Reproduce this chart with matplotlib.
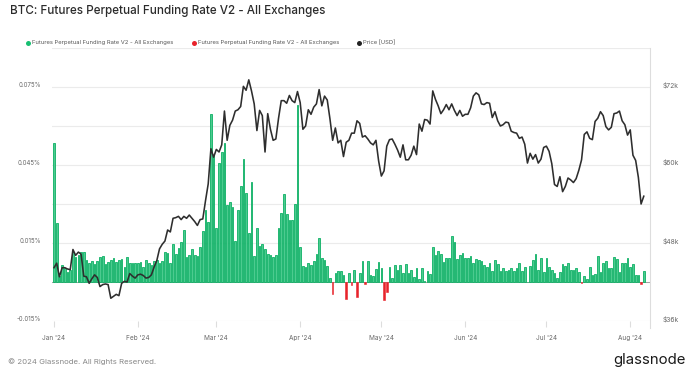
import numpy as np
import pandas as pd
import matplotlib
matplotlib.use("Agg")
import matplotlib.pyplot as plt
import matplotlib.dates as mdates
from matplotlib.lines import Line2D

# ---------------- data (daily, 2024-01-01 .. 2024-08-06) ----------------
funding_jan = [0.0533, 0.0226, 0.0025, 0.0065, 0.0053, 0.0040, 0.0046, 0.0117, 0.0097, 0.0104,
               0.0114, 0.0114, 0.0085, 0.0072, 0.0081, 0.0069, 0.0081, 0.0097, 0.0100, 0.0069,
               0.0078, 0.0085, 0.0091, 0.0076, 0.0083, 0.0088, 0.0059, 0.0097, 0.0074, 0.0072, 0.0072]
funding_feb = [0.0072, 0.0076, 0.0059, 0.0085, 0.0074, 0.0065, 0.0081, 0.0085, 0.0072, 0.0081,
               0.0117, 0.0110, 0.0072, 0.0145, 0.0108, 0.0129, 0.0155, 0.0200, 0.0097, 0.0104,
               0.0126, 0.0104, 0.0101, 0.0133, 0.0196, 0.0277, 0.0230, 0.0645, 0.0488]
funding_mar = [0.0206, 0.0456, 0.0501, 0.0536, 0.0296, 0.0306, 0.0290, 0.0158, 0.0277, 0.0370,
               0.0472, 0.0344, 0.0190, 0.0383, 0.0101, 0.0206, 0.0138, 0.0145, 0.0127, 0.0106,
               0.0104, 0.0097, 0.0104, 0.0209, 0.0264, 0.0337, 0.0260, 0.0238, 0.0238, 0.0299, 0.0680]
funding_apr = [0.0133, 0.0063, 0.0059, 0.0072, 0.0065, 0.0082, 0.0108, 0.0168, 0.0091, 0.0085,
               0.0062, 0.0014, -0.0046, 0.0036, 0.0041, 0.0041, 0.0026, -0.0067, 0.0036, -0.0012,
               0.0045, -0.0059, 0.0033, 0.0082, -0.0006, 0.0082, 0.0028, 0.0023, 0.0049, 0.0078]
funding_may = [0.0053, -0.0069, -0.0040, 0.0056, 0.0017, 0.0065, 0.0046, 0.0065, 0.0033, 0.0069,
               0.0036, 0.0046, 0.0018, 0.0053, 0.0010, 0.0055, 0.0003, 0.0042, 0.0031, 0.0133,
               0.0104, 0.0119, 0.0106, 0.0077, 0.0091, 0.0091, 0.0177, 0.0153, 0.0088, 0.0104, 0.0110]
funding_jun = [0.0092, 0.0092, 0.0101, 0.0074, 0.0090, 0.0085, 0.0079, 0.0065, 0.0058, 0.0073,
               0.0042, 0.0085, 0.0068, 0.0042, 0.0054, 0.0042, 0.0046, 0.0054, 0.0042, 0.0055,
               0.0074, 0.0041, 0.0059, 0.0000, 0.0062, 0.0085, 0.0106, 0.0046, 0.0094, 0.0037]
funding_jul = [0.0091, 0.0059, 0.0046, 0.0033, 0.0014, 0.0037, 0.0068, 0.0063, 0.0072, 0.0046,
               0.0046, 0.0055, 0.0037, -0.0005, 0.0023, 0.0013, 0.0056, 0.0027, 0.0031, 0.0100,
               0.0037, 0.0074, 0.0082, 0.0055, 0.0055, 0.0095, 0.0090, 0.0040, 0.0072, 0.0072, 0.0092]
funding_aug = [0.0056, 0.0068, 0.0027, 0.0026, -0.0009, 0.0044]

price_jan = [44.2, 44.9, 42.8, 44.2, 44.2, 44.0, 43.9, 47.0, 46.1, 46.6, 46.3, 42.9, 42.8, 41.8, 42.5,
             43.1, 42.7, 41.3, 41.6, 41.7, 41.6, 39.5, 39.8, 40.1, 39.9, 41.8, 42.1, 42.0, 43.3, 42.9, 42.6]
price_feb = [43.1, 43.2, 43.0, 42.6, 42.7, 43.1, 44.3, 45.3, 47.1, 47.8, 48.3, 50.0, 49.7, 51.8, 51.9,
             52.1, 51.6, 52.1, 51.8, 52.3, 51.8, 51.3, 50.7, 51.6, 51.7, 54.5, 57.1, 62.5, 61.2]
price_mar = [62.4, 62.0, 63.1, 68.3, 63.8, 66.1, 66.9, 68.3, 68.5, 69.0, 72.1, 71.5, 73.1, 71.4, 69.4,
             65.3, 68.4, 67.6, 62.0, 67.9, 65.5, 63.8, 64.0, 67.2, 69.9, 69.9, 69.5, 70.7, 69.9, 69.6, 71.3]
price_apr = [69.6, 65.5, 66.0, 68.5, 67.8, 68.9, 69.4, 71.6, 69.1, 70.6, 70.0, 67.1, 63.8, 65.7, 63.4,
             63.8, 61.3, 63.5, 63.8, 64.9, 64.9, 66.8, 66.4, 64.3, 64.5, 64.0, 63.4, 63.1, 63.8, 60.6]
price_may = [58.3, 59.1, 62.9, 63.9, 64.0, 63.2, 62.3, 61.2, 63.1, 60.8, 60.8, 61.5, 62.9, 61.6, 66.3,
             65.2, 67.0, 66.9, 66.3, 71.4, 70.1, 69.1, 67.9, 68.5, 69.3, 68.5, 69.4, 68.4, 67.6, 68.4, 67.5]
price_jun = [67.8, 67.8, 68.8, 70.6, 71.1, 70.8, 69.4, 69.3, 69.6, 69.5, 67.3, 68.2, 66.8, 66.0, 66.2,
             66.6, 66.5, 65.2, 65.0, 64.9, 64.1, 64.3, 63.2, 60.3, 61.8, 60.9, 61.6, 60.3, 60.9, 62.7]
price_jul = [62.9, 62.1, 60.2, 57.0, 56.7, 58.2, 55.9, 56.7, 58.0, 57.7, 57.3, 57.9, 59.2, 60.8, 64.7,
             65.1, 64.1, 63.9, 66.7, 67.2, 68.2, 67.6, 65.9, 65.4, 65.8, 67.9, 68.0, 68.3, 66.8, 66.2, 64.6]
price_aug = [65.4, 61.5, 60.7, 58.1, 54.0, 55.2]

month_labels = ["Jan '24", "Feb '24", "Mar '24", "Apr '24", "May '24", "Jun '24", "Jul '24", "Aug '24"]
left_ticks = [-0.015, 0.0, 0.015, 0.030, 0.045, 0.060, 0.075, 0.090]
left_labels = ["-0.015%", "", "0.015%", "", "0.045%", "", "0.075%", ""]
right_ticks = [36000, 48000, 60000, 72000]
right_labels = ["$36k", "$48k", "$60k", "$72k"]

title = "BTC: Futures Perpetual Funding Rate V2 - All Exchanges"
series_name = "Futures Perpetual Funding Rate V2 - All Exchanges"
price_name = "Price [USD]"

funding = np.array(funding_jan + funding_feb + funding_mar + funding_apr +
                   funding_may + funding_jun + funding_jul + funding_aug)
price = np.array(price_jan + price_feb + price_mar + price_apr +
                 price_may + price_jun + price_jul + price_aug) * 1000.0
dates = pd.date_range("2024-01-01", periods=len(funding), freq="D")

# ---------------- styling ----------------
W, H = 693, 377
plt.rcParams["font.family"] = ["Inter", "DejaVu Sans"]
GREEN_EDGE = "#0cb064"
GREEN_FILL = "#4ccb8f"
RED = "#e8232b"
TXT = "#666666"

fig = plt.figure(figsize=(W / 100, H / 100), dpi=100)
fig.patch.set_facecolor("white")
renderer = fig.canvas.get_renderer()


def text_width(s, size, **kw):
    t = fig.text(0, 0, s, fontsize=size, **kw)
    w = t.get_window_extent(renderer).width
    t.remove()
    return w


def fit(s, target, **kw):
    return 10.0 * target / text_width(s, 10.0, **kw)


def fx(x):
    return x / W


def fy(y):
    return 1 - y / H


ax = fig.add_axes([fx(52), fy(321), 598 / W, 273 / H])
ax.set_facecolor("none")

pos = funding >= 0
ax.bar(dates[pos], funding[pos], width=0.62, color=GREEN_FILL, edgecolor=GREEN_EDGE,
       linewidth=0.6, zorder=2)
ax.bar(dates[~pos], funding[~pos], width=0.62, color=RED, edgecolor=RED,
       linewidth=0.4, zorder=2)
ax.axhline(0, color="#a0a0a0", lw=0.7, zorder=1.5)

x0 = mdates.date2num(dates[0])
ax.set_xlim(x0 - 0.74, x0 + 220.3)
ax.set_ylim(-0.015, 0.090)

ax.set_yticks(left_ticks)
tick_fs = fit("0.075%", 22.7)
ax.set_yticklabels(left_labels, fontsize=tick_fs, color=TXT)
for lab in ax.get_yticklabels():
    lab.set_verticalalignment("baseline")
ax.grid(axis="y", color="#ebebeb", lw=0.8, zorder=0)
ax.set_axisbelow(True)

month_starts = pd.date_range("2024-01-01", "2024-08-01", freq="MS")
ax.set_xticks(month_starts)
x_fs = fit("Jan '24", 23)
ax.set_xticklabels(month_labels, fontsize=x_fs, color=TXT)
ax.tick_params(axis="x", length=4, width=0.8, color="#dddddd", pad=6)
ax.tick_params(axis="y", length=0, pad=8)
for s in ax.spines.values():
    s.set_visible(False)

ax2 = ax.twinx()
ax2.plot(dates, price, color="#2e2e2e", lw=1.15, zorder=3)
ax2.set_ylim(36000, 78000)
ax2.set_yticks(right_ticks)
r_fs = fit("$72k", 16)
ax2.set_yticklabels(right_labels, fontsize=r_fs, color=TXT)
for lab in ax2.get_yticklabels():
    lab.set_verticalalignment("baseline")
ax2.tick_params(axis="y", length=0, pad=9)
for s in ax2.spines.values():
    s.set_visible(False)

# right border line
fig.add_artist(Line2D([fx(650), fx(650)], [fy(48), fy(328)], color="#dddddd", lw=0.8))

# title
fig.text(fx(10), fy(11), title, fontsize=fit(title, 315, fontweight="medium"),
         fontweight="medium", color="#2b2b2b", ha="left", va="center")

# legend
leg_fs = fit(series_name, 142)
for xd, xt, col, name in [(28, 32.3, "#18bf72", series_name),
                          (194, 198.5, RED, series_name),
                          (359, 362.7, "#222222", price_name)]:
    fig.add_artist(Line2D([fx(xd)], [fy(42.7)], marker="o", markersize=3.6,
                          color=col, markeredgewidth=0, linestyle="none"))
    fig.text(fx(xt), fy(42.7), name, fontsize=leg_fs, color="#555555",
             ha="left", va="center")

# footer
foot = "\u00a9 2024 Glassnode. All Rights Reserved."
fig.text(fx(8), fy(362), foot, fontsize=fit(foot, 149), color="#888888",
         ha="left", va="center")
fig.text(fx(613), fy(360), "glassnode", fontsize=fit("glassnode", 73),
         color="#1a1a1a", ha="left", va="center")

fig.savefig("out.png", dpi=100, facecolor="white")
